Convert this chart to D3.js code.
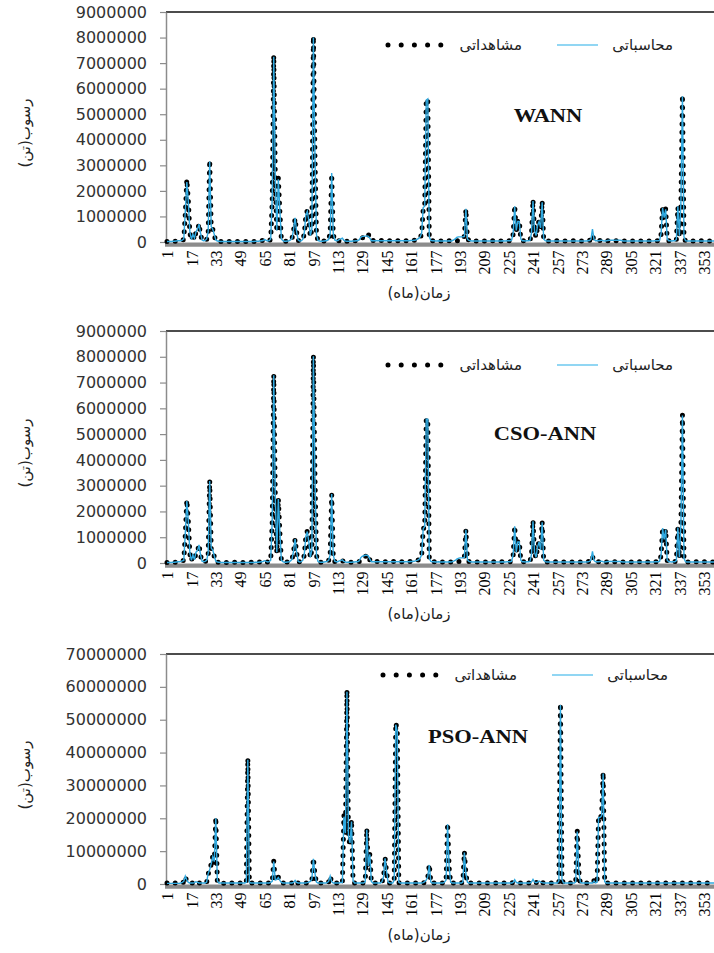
<!DOCTYPE html>
<html>
<head>
<meta charset="utf-8">
<script src="https://cdn.jsdelivr.net/npm/d3@7"></script>
<style>
  body { margin: 0; background: #fff; }
  svg { display: block; }
</style>
</head>
<body>
<svg></svg>
<script>
const w = 714;
const h = 953;

// months 1..360 (category axis)
const months = d3.range(1, 361);
const xTicks = [1, 17, 33, 49, 65, 81, 97, 113, 129, 145, 161, 177, 193, 209, 225, 241, 257, 273, 289, 305, 321, 337, 353];
const yTicksSmall = [0, 1000000, 2000000, 3000000, 4000000, 5000000, 6000000, 7000000, 8000000, 9000000];
const yTicksBig = [0, 10000000, 20000000, 30000000, 40000000, 50000000, 60000000, 70000000];

// observed sediment, WANN / CSO-ANN panels (million tons)
const obsA = [
  0.02,0.01,0.01,0.02,0.02,0.03,0.04,0.05,0.06,0.05, 0.08,0.1,1.1,2.45,1.6,0.35,0.08,0.35,0.1,0.4,
  0.45,0.72,0.3,0.06,0.05,0.06,0.1,0.35,3.2,0.55, 0.5,0.25,0.06,0.03,0.03,0.02,0.02,0.02,0.03,0.02,
  0.02,0.02,0.02,0.02,0.03,0.02,0.02,0.02,0.02,0.02, 0.02,0.02,0.02,0.02,0.02,0.03,0.02,0.02,0.03,0.03,
  0.03,0.04,0.05,0.06,0.08,0.05,0.04,0.06,0.1,1.6, 7.3,2.6,0.4,2.5,1.2,0.1,0.04,0.03,0.03,0.04,
  0.05,0.08,0.15,0.45,0.92,0.4,0.06,0.04,0.05,0.1, 0.3,1.0,1.25,0.8,0.2,0.5,8.05,3.4,0.3,0.05,
  0.04,0.03,0.03,0.04,0.05,0.06,0.1,0.35,2.65,0.3, 0.06,0.04,0.04,0.05,0.06,0.08,0.06,0.04,0.03,0.03,
  0.03,0.03,0.04,0.04,0.05,0.05,0.06,0.1,0.15,0.2, 0.25,0.3,0.32,0.12,0.05,0.06,0.05,0.05,0.06,0.05,
  0.05,0.06,0.05,0.05,0.06,0.05,0.05,0.05,0.06,0.05, 0.05,0.05,0.06,0.05,0.05,0.05,0.06,0.05,0.05,0.06,
  0.06,0.06,0.07,0.08,0.1,0.12,0.18,0.3,1.3,1.45, 5.6,5.55,0.15,0.06,0.05,0.05,0.04,0.04,0.05,0.04,
  0.04,0.04,0.05,0.04,0.04,0.05,0.04,0.04,0.05,0.05, 0.05,0.05,0.06,0.1,0.15,0.22,1.28,0.15,0.06,0.05,
  0.04,0.04,0.05,0.04,0.04,0.04,0.05,0.04,0.04,0.04, 0.05,0.04,0.04,0.04,0.05,0.04,0.04,0.05,0.04,0.04,
  0.05,0.04,0.04,0.05,0.05,0.05,0.06,0.3,1.43,0.4, 0.85,0.85,0.1,0.05,0.05,0.04,0.05,0.05,0.06,0.3,
  1.65,0.4,0.2,0.6,0.85,0.5,1.6,0.1,0.05,0.04, 0.04,0.05,0.04,0.04,0.04,0.05,0.04,0.04,0.04,0.05,
  0.04,0.04,0.04,0.05,0.04,0.04,0.04,0.05,0.04,0.04, 0.05,0.04,0.04,0.05,0.04,0.05,0.05,0.06,0.08,0.25,
  0.08,0.05,0.05,0.05,0.06,0.08,0.05,0.04,0.04,0.05, 0.05,0.05,0.04,0.04,0.05,0.04,0.04,0.04,0.05,0.04,
  0.04,0.04,0.05,0.04,0.04,0.04,0.05,0.04,0.04,0.04, 0.05,0.04,0.04,0.04,0.05,0.04,0.04,0.05,0.04,0.04,
  0.05,0.05,0.05,0.06,0.3,1.37,0.9,1.3,0.1,0.05, 0.05,0.04,0.05,0.05,0.08,1.35,0.2,1.5,5.75,0.15,
  0.05,0.04,0.04,0.05,0.04,0.04,0.04,0.05,0.04,0.04, 0.05,0.04,0.04,0.05,0.04,0.04,0.04,0.05,0.04,0.04
];

// computed, WANN (million tons)
const calcWann = [
  0.02,0.02,0.02,0.02,0.03,0.03,0.04,0.05,0.05,0.05, 0.07,0.12,1.2,2.35,1.55,0.4,0.1,0.3,0.15,0.4,
  0.5,0.7,0.35,0.08,0.05,0.06,0.12,0.4,3.15,0.6, 0.5,0.3,0.08,0.04,0.03,0.02,0.02,0.02,0.02,0.02,
  0.02,0.02,0.02,0.02,0.02,0.02,0.02,0.02,0.02,0.02, 0.02,0.02,0.02,0.02,0.02,0.02,0.02,0.02,0.03,0.03,
  0.03,0.04,0.05,0.06,0.1,0.06,0.04,0.05,0.12,1.7, 7.25,2.5,0.45,2.45,1.25,0.12,0.05,0.03,0.03,0.04,
  0.05,0.08,0.15,0.5,0.95,0.4,0.08,0.04,0.05,0.1, 0.35,1.05,1.2,0.85,0.25,0.5,8.0,3.5,0.3,0.06,
  0.04,0.03,0.03,0.04,0.05,0.06,0.1,0.3,2.7,0.35, 0.08,0.05,0.06,0.1,0.12,0.15,0.06,0.04,0.03,0.03,
  0.03,0.03,0.04,0.04,0.05,0.05,0.08,0.18,0.22,0.22, 0.23,0.24,0.22,0.15,0.05,0.05,0.05,0.05,0.05,0.05,
  0.05,0.05,0.05,0.05,0.05,0.05,0.05,0.05,0.05,0.05, 0.05,0.05,0.05,0.05,0.05,0.05,0.05,0.05,0.05,0.05,
  0.06,0.06,0.07,0.08,0.1,0.14,0.2,0.35,1.35,1.4, 5.55,5.6,0.2,0.06,0.05,0.05,0.04,0.04,0.05,0.04,
  0.04,0.04,0.05,0.04,0.04,0.05,0.04,0.05,0.08,0.12, 0.18,0.2,0.2,0.2,0.2,0.22,1.3,0.12,0.06,0.05,
  0.04,0.04,0.04,0.04,0.04,0.04,0.04,0.04,0.04,0.04, 0.04,0.04,0.04,0.04,0.04,0.04,0.04,0.04,0.04,0.04,
  0.05,0.04,0.04,0.05,0.05,0.05,0.08,0.35,1.4,0.45, 0.8,0.8,0.12,0.05,0.05,0.04,0.05,0.05,0.06,0.35,
  1.6,0.45,0.25,0.65,0.8,0.55,1.55,0.12,0.05,0.04, 0.04,0.04,0.04,0.04,0.04,0.04,0.04,0.04,0.04,0.04,
  0.04,0.04,0.04,0.04,0.04,0.04,0.04,0.04,0.04,0.04, 0.04,0.04,0.04,0.04,0.04,0.04,0.05,0.06,0.1,0.5,
  0.1,0.05,0.05,0.05,0.06,0.07,0.05,0.04,0.05,0.06, 0.07,0.07,0.07,0.07,0.07,0.07,0.07,0.07,0.06,0.04,
  0.04,0.04,0.04,0.04,0.04,0.04,0.04,0.04,0.04,0.04, 0.04,0.04,0.04,0.04,0.04,0.04,0.04,0.04,0.04,0.04,
  0.05,0.05,0.05,0.06,0.35,1.33,0.95,1.28,0.12,0.05, 0.05,0.04,0.05,0.05,0.1,1.4,0.25,1.55,5.7,0.2,
  0.05,0.04,0.04,0.04,0.04,0.04,0.04,0.04,0.04,0.04, 0.04,0.04,0.04,0.04,0.04,0.04,0.04,0.04,0.04,0.04
];

// computed, CSO-ANN (million tons)
const calcCso = [
  0.02,0.02,0.02,0.02,0.03,0.03,0.04,0.05,0.05,0.06, 0.08,0.1,1.15,2.4,1.6,0.38,0.1,0.32,0.12,0.42,
  0.48,0.7,0.32,0.07,0.05,0.06,0.1,0.38,3.18,0.58, 0.5,0.28,0.07,0.04,0.03,0.02,0.02,0.02,0.02,0.02,
  0.02,0.02,0.02,0.02,0.02,0.02,0.02,0.02,0.02,0.02, 0.02,0.02,0.02,0.02,0.02,0.02,0.02,0.02,0.03,0.03,
  0.03,0.04,0.05,0.06,0.09,0.06,0.04,0.05,0.11,1.65, 7.28,2.55,0.42,2.48,1.22,0.11,0.05,0.03,0.03,0.04,
  0.05,0.08,0.15,0.48,0.93,0.42,0.07,0.04,0.05,0.1, 0.32,1.02,1.22,0.82,0.22,0.5,8.02,3.45,0.3,0.06,
  0.04,0.03,0.03,0.04,0.05,0.06,0.1,0.32,2.68,0.32, 0.07,0.05,0.05,0.08,0.1,0.12,0.06,0.04,0.03,0.03,
  0.03,0.03,0.04,0.04,0.05,0.05,0.08,0.2,0.26,0.28, 0.3,0.3,0.28,0.15,0.05,0.05,0.05,0.05,0.05,0.05,
  0.05,0.05,0.05,0.05,0.05,0.05,0.05,0.05,0.05,0.05, 0.05,0.05,0.05,0.05,0.05,0.05,0.05,0.05,0.05,0.05,
  0.06,0.06,0.07,0.08,0.1,0.13,0.19,0.32,1.32,1.42, 5.58,5.58,0.18,0.06,0.05,0.05,0.04,0.04,0.05,0.04,
  0.04,0.04,0.05,0.04,0.04,0.05,0.04,0.05,0.07,0.1, 0.15,0.18,0.2,0.2,0.2,0.22,1.29,0.13,0.06,0.05,
  0.04,0.04,0.04,0.04,0.04,0.04,0.04,0.04,0.04,0.04, 0.04,0.04,0.04,0.04,0.04,0.04,0.04,0.04,0.04,0.04,
  0.05,0.04,0.04,0.05,0.05,0.05,0.07,0.32,1.42,0.42, 0.82,0.82,0.11,0.05,0.05,0.04,0.05,0.05,0.06,0.32,
  1.62,0.42,0.22,0.62,0.82,0.52,1.58,0.11,0.05,0.04, 0.04,0.04,0.04,0.04,0.04,0.04,0.04,0.04,0.04,0.04,
  0.04,0.04,0.04,0.04,0.04,0.04,0.04,0.04,0.04,0.04, 0.04,0.04,0.04,0.04,0.04,0.04,0.05,0.06,0.1,0.45,
  0.1,0.05,0.05,0.05,0.06,0.07,0.05,0.04,0.05,0.06, 0.06,0.06,0.06,0.06,0.06,0.06,0.06,0.06,0.05,0.04,
  0.04,0.04,0.04,0.04,0.04,0.04,0.04,0.04,0.04,0.04, 0.04,0.04,0.04,0.04,0.04,0.04,0.04,0.04,0.04,0.04,
  0.05,0.05,0.05,0.06,0.32,1.35,0.92,1.3,0.11,0.05, 0.05,0.04,0.05,0.05,0.09,1.38,0.22,1.52,5.72,0.18,
  0.05,0.04,0.04,0.04,0.04,0.04,0.04,0.04,0.04,0.04, 0.04,0.04,0.04,0.04,0.04,0.04,0.04,0.04,0.04,0.04
];

// observed sediment, PSO-ANN panel (million tons)
const obsPso = [
  0.3,0.2,0.2,0.3,0.2,0.3,0.3,0.2,0.3,0.3, 0.4,0.6,2.2,0.9,0.6,0.3,0.3,0.3,0.3,0.8,
  0.5,0.3,0.3,0.3,0.3,0.3,0.5,3.0,4.5,6.0, 8.5,6.5,20.3,0.8,0.3,0.3,0.3,0.2,0.3,0.3,
  0.3,0.2,0.3,0.3,0.3,0.2,0.3,0.3,0.3,0.3, 0.3,0.3,0.4,38.2,0.4,0.3,0.3,0.3,0.2,0.3,
  0.3,0.3,0.3,0.2,0.3,0.3,0.3,0.3,0.4,0.6, 7.0,1.0,1.3,2.1,1.0,0.4,0.3,0.3,0.3,0.3,
  0.3,0.3,0.3,0.4,1.0,0.4,0.3,0.3,0.3,0.3, 0.3,0.3,0.3,0.5,0.6,1.0,7.9,3.0,0.5,0.3,
  0.3,0.3,0.3,0.3,0.3,0.3,0.6,2.3,0.6,0.3, 0.3,0.3,0.3,0.3,0.5,0.3,21.0,15.0,59.0,14.0,
  12.0,19.5,0.8,0.3,0.3,0.3,0.3,0.3,0.3,0.3, 0.6,16.8,5.0,9.2,0.6,0.3,0.3,0.3,0.3,0.3,
  0.3,0.6,2.0,8.0,3.5,0.5,0.3,0.3,0.3,1.0, 49.0,47.0,0.4,0.3,0.3,0.3,0.3,0.3,0.3,0.3,
  0.3,0.3,0.3,0.3,0.3,0.3,0.3,0.3,0.3,0.5, 1.0,2.0,6.0,0.5,0.3,0.3,0.3,0.3,0.3,0.3,
  0.3,0.3,0.5,1.0,18.5,5.0,0.4,0.3,0.3,0.3, 0.3,0.3,0.3,0.3,0.5,9.8,3.0,0.4,0.3,0.3,
  0.3,0.3,0.3,0.3,0.3,0.3,0.3,0.3,0.3,0.3, 0.3,0.3,0.3,0.3,0.3,0.3,0.3,0.3,0.3,0.3,
  0.3,0.3,0.3,0.3,0.3,0.3,0.3,0.4,0.5,0.4, 0.3,0.3,0.3,0.3,0.3,0.3,0.3,0.3,0.3,0.5,
  0.8,0.5,0.4,0.6,1.1,0.8,0.4,0.3,0.3,0.3, 0.3,0.3,0.3,0.3,0.3,0.3,0.3,0.8,55.0,1.2,
  0.3,0.3,0.3,0.3,0.3,0.3,0.3,0.3,0.5,16.3, 4.0,0.4,0.3,0.3,0.3,0.3,0.3,0.3,0.3,0.3,
  1.0,0.3,0.4,20.5,20.0,21.0,34.0,0.5,0.3,0.3, 0.3,0.3,0.3,0.3,0.3,0.3,0.3,0.3,0.3,0.3,
  0.3,0.3,0.3,0.3,0.3,0.3,0.3,0.3,0.3,0.3, 0.3,0.3,0.3,0.3,0.3,0.3,0.3,0.3,0.3,0.3,
  0.3,0.3,0.3,0.3,0.3,0.3,0.3,0.3,0.3,0.3, 0.3,0.3,0.3,0.3,0.3,0.3,0.3,0.3,0.3,0.3,
  0.3,0.3,0.3,0.3,0.3,0.3,0.3,0.3,0.3,0.3, 0.3,0.3,0.3,0.3,0.3,0.3,0.3,0.3,0.3,0.3
];

// computed, PSO-ANN (million tons)
const calcPso = [
  0.2,0.2,0.2,0.2,0.2,0.2,0.2,0.2,0.2,0.3, 0.5,0.8,2.4,1.2,0.5,0.3,0.3,0.3,0.4,0.7,
  0.5,0.3,0.3,0.3,0.3,0.3,0.6,3.2,4.3,6.2, 8.3,6.8,20.0,1.0,0.3,0.3,0.3,0.3,0.3,0.3,
  0.3,0.3,0.3,0.3,0.3,0.3,0.3,0.3,0.3,0.3, 0.3,0.3,0.5,37.8,0.5,0.3,0.3,0.3,0.3,0.3,
  0.3,0.3,0.3,0.3,0.3,0.3,0.3,0.3,0.5,0.8, 6.8,1.2,1.4,2.0,1.1,0.5,0.3,0.3,0.3,0.3,
  0.3,0.3,0.3,0.5,1.1,0.5,0.3,0.3,0.3,0.3, 0.3,0.3,0.4,0.6,0.8,1.5,7.7,3.2,0.6,0.3,
  0.3,0.3,0.3,0.3,0.3,0.4,0.8,2.4,0.7,0.3, 0.3,0.3,0.3,0.3,0.5,0.4,20.5,15.5,58.5,14.5,
  12.5,19.0,1.0,0.3,0.3,0.3,0.3,0.3,0.3,0.3, 0.7,16.5,5.5,9.0,0.8,0.3,0.3,0.3,0.3,0.3,
  0.3,0.7,2.2,7.8,3.8,0.6,0.3,0.3,0.3,1.2, 48.5,46.5,0.6,0.3,0.3,0.3,0.3,0.3,0.3,0.3,
  0.3,0.3,0.3,0.3,0.3,0.3,0.3,0.3,0.4,0.7, 1.2,2.2,5.8,0.6,0.3,0.3,0.3,0.3,0.3,0.3,
  0.3,0.3,0.6,1.2,18.2,5.3,0.5,0.3,0.3,0.3, 0.3,0.3,0.3,0.3,0.6,9.6,3.2,0.5,0.3,0.3,
  0.3,0.3,0.3,0.3,0.3,0.3,0.3,0.3,0.3,0.3, 0.3,0.3,0.3,0.3,0.3,0.3,0.3,0.3,0.3,0.3,
  0.3,0.3,0.3,0.3,0.3,0.3,0.3,0.5,1.3,0.5, 0.3,0.3,0.3,0.3,0.3,0.3,0.3,0.3,0.3,0.6,
  1.4,0.6,0.4,0.6,0.9,0.6,0.4,0.3,0.3,0.3, 0.3,0.3,0.3,0.3,0.3,0.3,0.3,1.0,54.5,1.4,
  0.3,0.3,0.3,0.3,0.3,0.3,0.3,0.3,0.6,16.0, 4.3,0.5,0.3,0.3,0.3,0.3,0.3,0.3,0.3,0.3,
  0.9,0.3,0.5,20.2,20.3,20.8,33.6,0.7,0.3,0.3, 0.3,0.3,0.3,0.3,0.3,0.3,0.3,0.3,0.3,0.3,
  0.3,0.3,0.3,0.3,0.3,0.3,0.3,0.3,0.3,0.3, 0.3,0.3,0.3,0.3,0.3,0.3,0.3,0.3,0.3,0.3,
  0.3,0.3,0.3,0.3,0.3,0.3,0.3,0.3,0.3,0.3, 0.3,0.3,0.3,0.3,0.3,0.3,0.3,0.3,0.3,0.3,
  0.3,0.3,0.3,0.3,0.3,0.3,0.3,0.3,0.3,0.3, 0.3,0.3,0.3,0.3,0.3,0.3,0.3,0.3,0.3,0.3
];

const legendObs = 'مشاهداتی';
const legendCalc = 'محاسباتی';
const xTitle = 'زمان(ماه)';
const yTitle = 'رسوب(تن)';

const blue = '#2fa9e0';
const gray = '#8c8c8c';

// panel layout
const panels = [
  { name: 'WANN', obs: obsA, calc: calcWann, max: 9000000, ticks: yTicksSmall,
    top: 12, bottom: 242, legY: 45, labX: 548, labY: 116, legDx: 0 },
  { name: 'CSO-ANN', obs: obsA, calc: calcCso, max: 9000000, ticks: yTicksSmall,
    top: 331, bottom: 563, legY: 365, labX: 545, labY: 434, legDx: 0 },
  { name: 'PSO-ANN', obs: obsPso, calc: calcPso, max: 70000000, ticks: yTicksBig,
    top: 654, bottom: 884, legY: 675, labX: 478, labY: 737, legDx: -5 }
];

const svg = d3.select('svg')
    .attr('width', w)
    .attr('height', h);

// x scale shared by all panels
const xScale = d3.scaleLinear()
    .domain([1, 360])
    .range([167, 167 + 359 * 1.525]);

panels.forEach(p => {
    const g = svg.append('g');

    const yScale = d3.scaleLinear()
        .domain([0, p.max])
        .range([p.bottom, p.top]);

    // top border of plot area
    g.append('line')
        .attr('x1', 166).attr('x2', w)
        .attr('y1', p.top).attr('y2', p.top)
        .attr('stroke', '#111')
        .attr('stroke-width', 1.5);

    // y axis
    const yAxis = d3.axisLeft(yScale)
        .tickValues(p.ticks)
        .tickFormat(d3.format('d'))
        .tickSize(6)
        .tickSizeOuter(0)
        .tickPadding(13);

    const ya = g.append('g')
        .attr('transform', 'translate(166,0)')
        .call(yAxis);
    ya.select('.domain').attr('stroke', gray).attr('stroke-width', 1.5);
    ya.selectAll('.tick line').attr('stroke', gray).attr('stroke-width', 1.2);
    ya.selectAll('.tick text')
        .attr('font-family', 'DejaVu Sans')
        .attr('font-size', 16)
        .attr('fill', '#333');

    // x axis: thick gray band plus rotated labels
    const xAxis = d3.axisBottom(xScale)
        .tickValues(xTicks)
        .tickSize(0)
        .tickSizeOuter(0);

    const xa = g.append('g')
        .attr('transform', 'translate(0,' + (p.bottom + 2.6) + ')')
        .call(xAxis);
    xa.select('.domain')
        .attr('stroke', gray)
        .attr('stroke-width', 4.2)
        .attr('d', 'M165,0H' + w);
    xa.selectAll('.tick text')
        .attr('font-family', 'Liberation Serif')
        .attr('font-size', 16)
        .attr('fill', '#000')
        .attr('transform', 'rotate(-90)')
        .attr('text-anchor', 'end')
        .attr('x', -6)
        .attr('y', 0)
        .attr('dy', '0.35em');

    // observed: round dotted black line
    const line = d3.line()
        .x((d, i) => xScale(months[i]))
        .y(d => yScale(d * 1e6));

    g.append('path')
        .datum(p.obs)
        .attr('d', line)
        .attr('fill', 'none')
        .attr('stroke', '#000')
        .attr('stroke-width', 5)
        .attr('stroke-linecap', 'round')
        .attr('stroke-dasharray', '0,8.3');

    // computed: thin blue line
    g.append('path')
        .datum(p.calc)
        .attr('d', line)
        .attr('fill', 'none')
        .attr('stroke', blue)
        .attr('stroke-width', 1.4);

    // legend
    const lx = p.legDx;
    g.append('line')
        .attr('x1', 388 + lx).attr('x2', 441 + lx)
        .attr('y1', p.legY).attr('y2', p.legY)
        .attr('stroke', '#000')
        .attr('stroke-width', 5)
        .attr('stroke-linecap', 'round')
        .attr('stroke-dasharray', '0,13.2');
    g.append('text')
        .attr('x', 522 + lx).attr('y', p.legY)
        .attr('dy', '0.35em')
        .attr('direction', 'rtl')
        .attr('text-anchor', 'start')
        .attr('font-family', 'DejaVu Sans')
        .attr('font-size', 15)
        .attr('fill', '#222')
        .text(legendObs);
    g.append('line')
        .attr('x1', 557 + lx).attr('x2', 598 + lx)
        .attr('y1', p.legY).attr('y2', p.legY)
        .attr('stroke', '#6cc8ef')
        .attr('stroke-width', 1.4);
    g.append('text')
        .attr('x', 673 + lx).attr('y', p.legY)
        .attr('dy', '0.35em')
        .attr('direction', 'rtl')
        .attr('text-anchor', 'start')
        .attr('font-family', 'DejaVu Sans')
        .attr('font-size', 15)
        .attr('fill', '#222')
        .text(legendCalc);

    // model name
    g.append('text')
        .attr('transform', 'translate(' + p.labX + ',' + p.labY + ') scale(1.25,1)')
        .attr('dy', '0.35em')
        .attr('text-anchor', 'middle')
        .attr('font-family', 'Liberation Serif')
        .attr('font-weight', 'bold')
        .attr('font-size', 18)
        .attr('fill', '#111')
        .text(p.name);

    // axis titles
    g.append('text')
        .attr('x', 419).attr('y', p.bottom + 56)
        .attr('direction', 'rtl')
        .attr('text-anchor', 'middle')
        .attr('font-family', 'DejaVu Sans')
        .attr('font-size', 15)
        .attr('fill', '#222')
        .text(xTitle);

    g.append('text')
        .attr('transform', 'translate(25,' + (p.top + (p.bottom - p.top) / 2 + 6) + ') rotate(-90)')
        .attr('dy', '0.35em')
        .attr('direction', 'rtl')
        .attr('text-anchor', 'middle')
        .attr('font-family', 'DejaVu Sans')
        .attr('font-size', 15)
        .attr('fill', '#222')
        .text(yTitle);
});
</script>
</body>
</html>
